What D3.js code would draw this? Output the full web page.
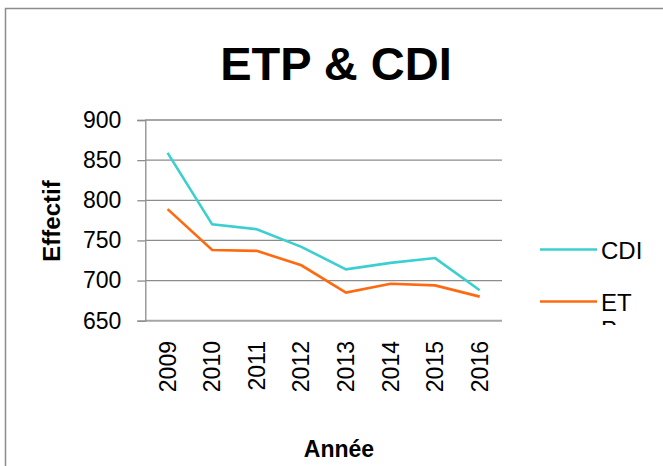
<!DOCTYPE html>
<html>
<head>
<meta charset="utf-8">
<script src="https://cdn.jsdelivr.net/npm/d3@7"></script>
<style>
  body { margin: 0; background: #fff; }
  svg { display: block; font-family: "Liberation Sans", Arial, sans-serif; }
</style>
</head>
<body>
<div id="chart"></div>
<script>
// Data
const years = ["2009", "2010", "2011", "2012", "2013", "2014", "2015", "2016"];
const cdiValues = [859, 770, 764, 742, 714, 722, 728, 688];
const etpValues = [789, 738, 737, 719, 685, 696, 694, 680];
const yTicks = [650, 700, 750, 800, 850, 900];

const W = 663, H = 466;
const plot = { left: 145.3, right: 502, top: 120, bottom: 320.7 };

const svg = d3.select("#chart")
    .append("svg")
    .attr("width", W)
    .attr("height", H);

// outer chart frame (right/bottom edges run off the picture)
svg.append("rect")
    .attr("x", 5.5)
    .attr("y", 8.5)
    .attr("width", 720)
    .attr("height", 520)
    .attr("fill", "#fff")
    .attr("stroke", "#8c8c8c")
    .attr("stroke-width", 1.5);

const x = d3.scaleBand()
    .domain(years)
    .range([plot.left, plot.right]);

const y = d3.scaleLinear()
    .domain([650, 900])
    .range([plot.bottom, plot.top]);

const cx = d => x(d) + x.bandwidth() / 2;

// title
svg.append("text")
    .attr("x", 336)
    .attr("y", 80)
    .attr("text-anchor", "middle")
    .style("font-size", "47px")
    .style("font-weight", "bold")
    .text("ETP & CDI");

// horizontal gridlines
svg.append("g")
    .selectAll("line")
    .data(yTicks)
    .join("line")
    .attr("x1", plot.left)
    .attr("x2", plot.right)
    .attr("y1", d => y(d))
    .attr("y2", d => y(d))
    .attr("stroke", d => (d === 650 || d === 900) ? "#a6a6a6" : "#8c8c8c")
    .attr("stroke-width", d => (d === 650 || d === 900) ? 2 : 1.3);

// y axis
const yAxis = svg.append("g")
    .attr("transform", `translate(${plot.left},0)`)
    .call(d3.axisLeft(y).tickValues(yTicks).tickSize(8).tickPadding(16));
yAxis.select(".domain").attr("stroke", "#8c8c8c").attr("stroke-width", 1.3);
yAxis.selectAll(".tick line").attr("stroke", "#8c8c8c").attr("stroke-width", 1.3);
yAxis.selectAll(".tick text")
    .attr("fill", "#000")
    .style("font-size", "23px")
    .style("font-family", "'Liberation Sans', Arial, sans-serif");

// x axis labels (rotated)
svg.append("g")
    .selectAll("text")
    .data(years)
    .join("text")
    .attr("transform", d => `translate(${cx(d)},341) rotate(-90)`)
    .attr("text-anchor", "end")
    .attr("dy", "0.35em")
    .style("font-size", "23px")
    .text(d => d);

// axis titles
svg.append("text")
    .attr("x", 339)
    .attr("y", 457)
    .attr("text-anchor", "middle")
    .style("font-size", "23px")
    .style("font-weight", "bold")
    .text("Année");

svg.append("text")
    .attr("transform", "translate(60,221) rotate(-90)")
    .attr("text-anchor", "middle")
    .style("font-size", "24px")
    .style("font-weight", "bold")
    .text("Effectif");

// lines
const line = d3.line()
    .x((d, i) => cx(years[i]))
    .y(d => y(d));

svg.append("path")
    .datum(etpValues)
    .attr("d", line)
    .attr("fill", "none")
    .attr("stroke", "#ff6a10")
    .attr("stroke-width", 2.6);

svg.append("path")
    .datum(cdiValues)
    .attr("d", line)
    .attr("fill", "none")
    .attr("stroke", "#3ccfcf")
    .attr("stroke-width", 2.6);

// legend (second entry's label wraps and is clipped)
svg.append("clipPath")
    .attr("id", "legclip")
    .append("rect")
    .attr("x", 530)
    .attr("y", 225)
    .attr("width", 133)
    .attr("height", 100);

const legend = svg.append("g").attr("clip-path", "url(#legclip)");

const legendItems = [
    { lines: ["CDI"], color: "#3ccfcf", y: 249.5 },
    { lines: ["ET", "P"], color: "#ff6a10", y: 301.5 }
];

legendItems.forEach(item => {
    legend.append("line")
        .attr("x1", 540)
        .attr("x2", 597)
        .attr("y1", item.y)
        .attr("y2", item.y)
        .attr("stroke", item.color)
        .attr("stroke-width", 2.6);
    const t = legend.append("text")
        .attr("x", 601)
        .attr("y", item.y + 9.5)
        .style("font-size", "24px");
    item.lines.forEach((s, i) => {
        t.append("tspan")
            .attr("x", 601)
            .attr("dy", i === 0 ? 0 : 27)
            .text(s);
    });
});
</script>
</body>
</html>
